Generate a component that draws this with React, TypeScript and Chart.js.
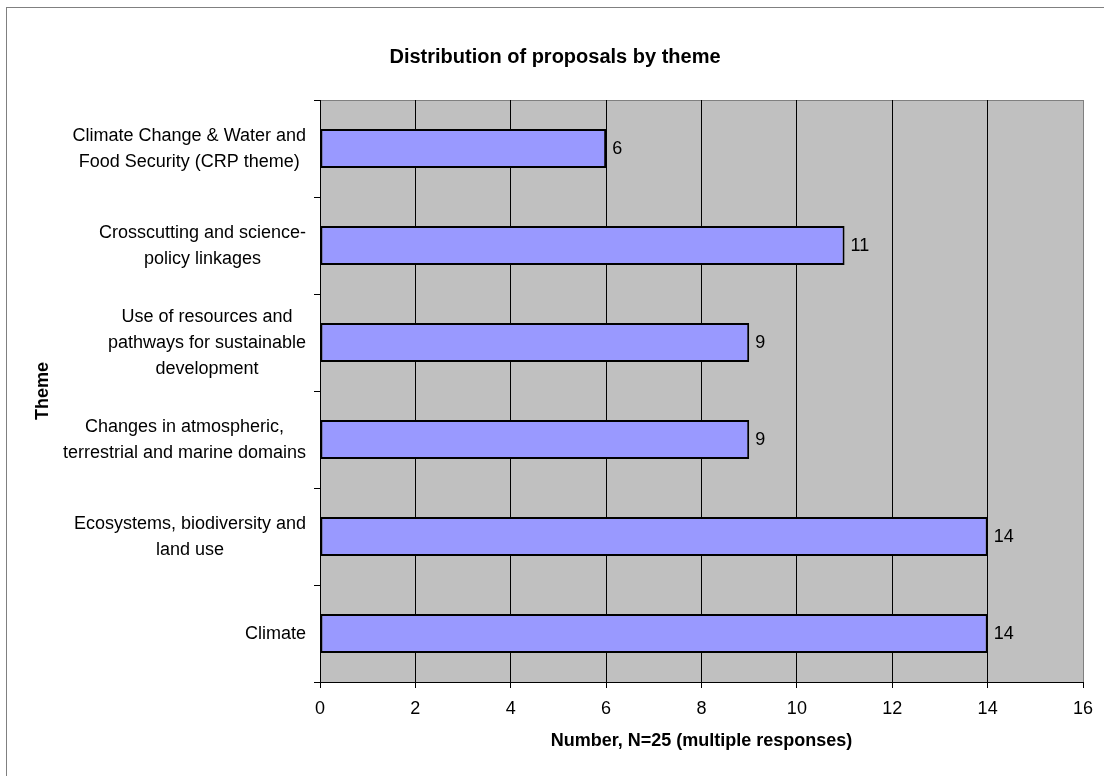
import React, { useEffect, useRef } from "react";
import { Chart, registerables } from "chart.js";

Chart.register(...registerables);

const categories: string[][] = [
  ["Climate Change & Water and", "Food Security (CRP theme)"],
  ["Crosscutting and science-", "policy linkages"],
  ["Use of resources and", "pathways for sustainable", "development"],
  ["Changes in atmospheric,", "terrestrial and marine domains"],
  ["Ecosystems, biodiversity and", "land use"],
  ["Climate"],
];
const values: number[] = [6, 11, 9, 9, 14, 14];
const xMin = 0;
const xMax = 16;
const xStep = 2;
const chartTitle = "Distribution of proposals by theme";
const xTitle = "Number, N=25 (multiple responses)";
const yTitle = "Theme";

const FONT = '"Liberation Sans", Arial, sans-serif';

const decorPlugin = {
  id: "decor",
  beforeDraw(chart: any) {
    const { ctx, chartArea, width, height } = chart;
    ctx.save();
    ctx.fillStyle = "#ffffff";
    ctx.fillRect(0, 0, width, height);
    ctx.strokeStyle = "#808080";
    ctx.lineWidth = 1;
    ctx.strokeRect(6.5, 7.5, width + 20, height + 20);
    ctx.fillStyle = "#C0C0C0";
    ctx.fillRect(chartArea.left, chartArea.top, chartArea.right - chartArea.left, chartArea.bottom - chartArea.top);
    ctx.strokeStyle = "#808080";
    ctx.beginPath();
    ctx.moveTo(chartArea.left, chartArea.top + 0.5);
    ctx.lineTo(chartArea.right, chartArea.top + 0.5);
    ctx.stroke();
    // title
    ctx.fillStyle = "#000";
    ctx.font = `bold 20px ${FONT}`;
    ctx.textAlign = "center";
    ctx.textBaseline = "middle";
    ctx.fillText(chartTitle, 555, 57);
    ctx.restore();
  },
  afterDatasetsDraw(chart: any) {
    const { ctx, chartArea } = chart;
    const meta = chart.getDatasetMeta(0);
    const yScale = chart.scales.y;
    ctx.save();
    ctx.fillStyle = "#000";
    ctx.font = `18px ${FONT}`;
    ctx.textBaseline = "middle";
    ctx.textAlign = "left";
    meta.data.forEach((bar: any, i: number) => {
      ctx.fillText(String(values[i]), bar.x + 6, bar.y + 1);
    });
    // category labels: block right-aligned, lines centered within block
    const rightEdge = chartArea.left - 6 - 8;
    const lh = 26;
    categories.forEach((lines, i) => {
      const cy = yScale.getPixelForTick(i);
      let w = 0;
      lines.forEach((l) => {
        w = Math.max(w, ctx.measureText(l).width);
      });
      const cx = rightEdge - w / 2;
      const y0 = cy - ((lines.length - 1) * lh) / 2;
      ctx.textAlign = "center";
      lines.forEach((l, k) => {
        ctx.fillText(l, cx, y0 + k * lh + 1);
      });
    });
    ctx.restore();
  },
};

export default function App() {
  const ref = useRef<HTMLCanvasElement | null>(null);
  useEffect(() => {
    document.body.style.margin = "0";
    if (!ref.current) return;
    const chart = new Chart(ref.current, {
      type: "bar",
      data: {
        labels: categories.map((c) => c.join(" ")),
        datasets: [
          {
            data: values,
            backgroundColor: "#9999FF",
            borderColor: "#000000",
            borderWidth: 2,
            borderSkipped: false,
            barPercentage: 0.4,
            categoryPercentage: 1,
          },
        ],
      },
      plugins: [decorPlugin],
      options: {
        indexAxis: "y",
        responsive: false,
        animation: false,
        layout: { padding: { top: 100, right: 21, bottom: 0, left: 0 } },
        plugins: {
          legend: { display: false },
          title: { display: false },
          tooltip: { enabled: false },
        },
        scales: {
          x: {
            type: "linear",
            min: xMin,
            max: xMax,
            ticks: {
              stepSize: xStep,
              color: "#000",
              font: { family: FONT, size: 18 },
              padding: 10,
              maxRotation: 0,
            },
            grid: {
              color: (c: any) => (c.tick && c.tick.value === xMax ? "#808080" : "#000000"),
              tickColor: "#000000",
              tickLength: 6,
              lineWidth: 1,
            },
            border: { color: "#000000", width: 1 },
            title: {
              display: true,
              text: xTitle,
              color: "#000",
              font: { family: FONT, size: 18, weight: "bold" },
              padding: { top: 0, bottom: 24 },
            },
            afterFit: (s: any) => {
              s.height = 94;
            },
          },
          y: {
            type: "category",
            ticks: { display: false },
            grid: {
              drawOnChartArea: false,
              drawTicks: true,
              tickLength: 6,
              color: "#000000",
              offset: true,
            },
            border: { color: "#000000", width: 1 },
            title: {
              display: true,
              text: yTitle,
              color: "#000",
              font: { family: FONT, size: 18, weight: "bold" },
              padding: { top: 32, bottom: 0 },
            },
            afterFit: (s: any) => {
              s.width = 320;
            },
          },
        },
      } as any,
    });
    return () => chart.destroy();
  }, []);
  return (
    <div style={{ width: 1104, height: 776 }}>
      <canvas ref={ref} width={1104} height={776} style={{ display: "block" }} />
    </div>
  );
}
